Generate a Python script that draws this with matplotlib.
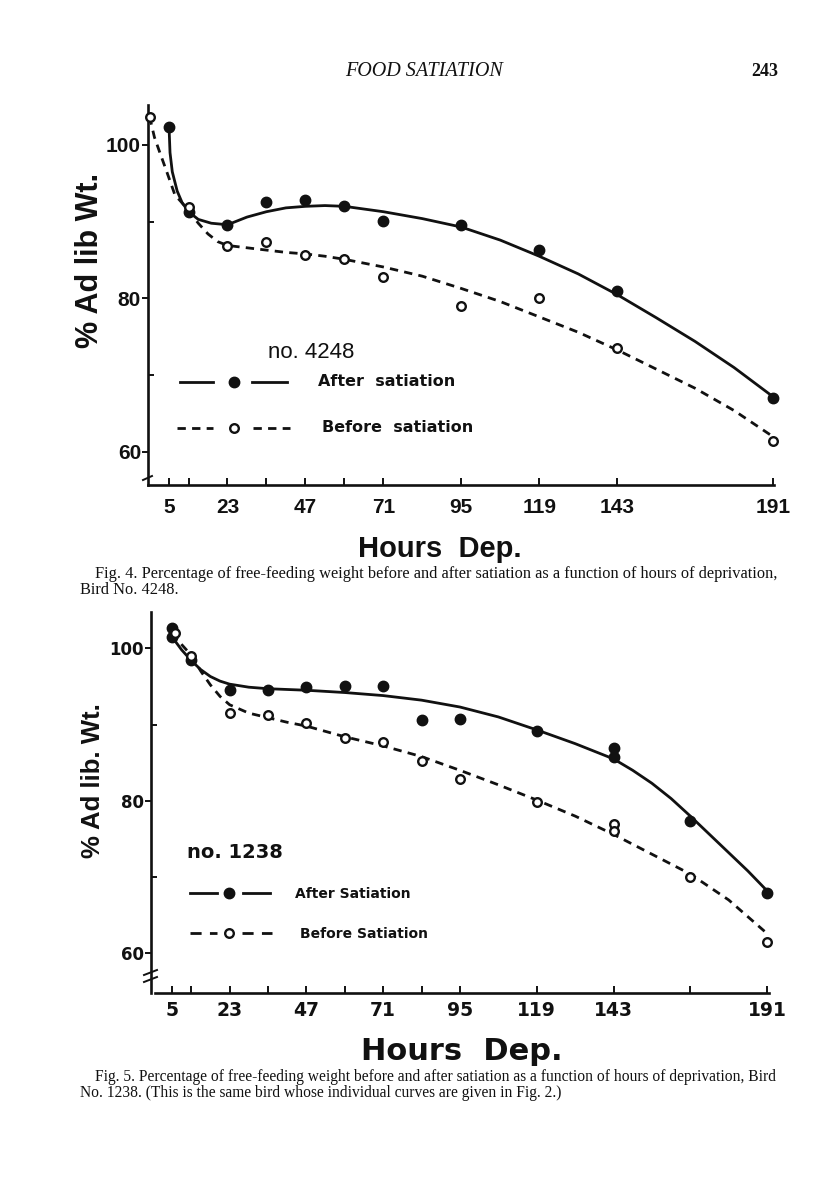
import matplotlib
matplotlib.use("Agg")
import matplotlib.pyplot as plt
from matplotlib.lines import Line2D

plt.rcParams['lines.scale_dashes'] = False

# ---------------- data : Fig. 4 (Bird No. 4248) ----------------
hours_after_4 = [5, 11, 23, 35, 47, 59, 71, 95, 119, 143, 191]
after_4 = [102.3, 91.3, 89.6, 92.5, 92.8, 92.0, 90.1, 89.6, 86.3, 81.0, 67.0]
hours_before_4 = [-1, 11, 23, 35, 47, 59, 71, 95, 119, 143, 191]
before_4 = [103.7, 91.9, 86.8, 87.4, 85.7, 85.1, 82.8, 79.0, 80.0, 73.5, 61.4]
# hand-drawn fitted curves
fit_after_4_h = [5, 5.3, 6, 7.5, 9, 11, 14, 18, 23, 29, 35, 41, 47, 53, 59, 71, 83, 95,
                 107, 119, 131, 143, 155, 167, 179, 191]
fit_after_4 = [102.3, 99.0, 96.5, 94.0, 92.5, 91.3, 90.3, 89.8, 89.6, 90.6, 91.3, 91.8,
               92.0, 92.1, 92.0, 91.3, 90.4, 89.3, 87.6, 85.5, 83.2, 80.5, 77.5, 74.4,
               71.0, 67.2]
fit_before_4_h = [-1, 0.5, 2, 4.3, 6.8, 11, 14, 17, 20, 23, 29, 35, 41, 47, 53, 59, 65, 71,
                  83, 95, 107, 119, 131, 143, 155, 167, 179, 191]
fit_before_4 = [103.7, 101.0, 99.2, 96.5, 93.5, 91.5, 89.8, 88.4, 87.4, 86.9, 86.6, 86.3,
                86.0, 85.8, 85.5, 85.1, 84.6, 84.1, 82.9, 81.3, 79.6, 77.6, 75.6, 73.3,
                70.8, 68.3, 65.4, 62.0]

# ---------------- data : Fig. 5 (Bird No. 1238) ----------------
hours_after_5 = [5, 5, 11, 23, 35, 47, 59, 71, 83, 95, 119, 143, 143, 167, 191]
after_5 = [102.7, 101.5, 98.5, 94.5, 94.5, 94.9, 95.0, 95.1, 90.6, 90.7, 89.1, 86.9,
           85.8, 77.3, 67.9]
hours_before_5 = [6, 11, 23, 35, 47, 59, 71, 83, 95, 119, 143, 143, 167, 191]
before_5 = [102.0, 99.0, 91.5, 91.2, 90.2, 88.2, 87.7, 85.2, 82.8, 79.8, 77.0, 76.0,
            70.0, 61.5]
fit_after_5_h = [5, 8, 11, 14, 17, 20, 23, 29, 35, 41, 47, 59, 71, 83, 95, 107, 119, 131,
                 143, 149, 155, 161, 167, 173, 179, 185, 191]
fit_after_5 = [101.5, 99.8, 98.4, 97.2, 96.3, 95.7, 95.3, 94.9, 94.7, 94.6, 94.5, 94.2,
               93.8, 93.2, 92.3, 91.0, 89.3, 87.5, 85.5, 84.0, 82.3, 80.3, 78.0, 75.6,
               73.2, 70.8, 68.2]
fit_before_5_h = [5, 8, 11, 14, 17, 20, 23, 29, 35, 41, 47, 59, 71, 83, 95, 107, 119, 131,
                  143, 155, 167, 179, 191]
fit_before_5 = [102.0, 100.5, 99.1, 97.0, 95.2, 93.7, 92.6, 91.5, 90.9, 90.3, 89.8, 88.4,
                87.2, 85.8, 84.0, 82.1, 80.1, 78.0, 75.6, 73.0, 70.4, 67.0, 62.6]

ticks_4 = [5, 11, 23, 35, 47, 59, 71, 95, 119, 143, 191]
ticks_5 = [5, 11, 23, 35, 47, 59, 71, 83, 95, 119, 143, 167, 191]
labeled_ticks = [5, 23, 47, 71, 95, 119, 143, 191]
y_major = [60, 80, 100]
y_minor = [70, 90]

# ---------------- layout ----------------
W, H = 816, 1188
INK = '#111111'
fig = plt.figure(figsize=(W / 100, H / 100), dpi=100)


def fx(x):
    return x / W


def fy(y):
    return 1 - y / H


DASH = (0, (6, 4.5))


def setup_axes(ax, xticks, tick_font, tick_size, ytick_font, ytick_size, xpad):
    for s in ('top', 'right'):
        ax.spines[s].set_visible(False)
    for s in ('left', 'bottom'):
        ax.spines[s].set_linewidth(1.9)
        ax.spines[s].set_color(INK)
    ax.set_xticks(xticks)
    ax.set_xticklabels([str(t) if t in labeled_ticks else '' for t in xticks],
                       fontfamily=tick_font, fontweight='bold', fontsize=tick_size)
    ax.tick_params(axis='x', direction='in', length=5, width=1.4, pad=xpad, colors=INK)
    ax.set_yticks(y_major)
    ax.set_yticklabels([str(v) for v in y_major], fontfamily=ytick_font,
                       fontweight='bold', fontsize=ytick_size)
    ax.set_yticks(y_minor, minor=True)
    ax.tick_params(axis='y', which='major', direction='out', length=4, width=1.4,
                   pad=1, colors=INK)
    ax.tick_params(axis='y', which='minor', direction='in', length=4, width=1.4,
                   colors=INK)
    ax.patch.set_visible(False)


def draw_series(ax, fh_a, fa, fh_b, fb, ha, a, hb, b):
    ax.plot(fh_a, fa, color=INK, lw=2.0, solid_capstyle='round', clip_on=False, zorder=3)
    ax.plot(fh_b, fb, color=INK, lw=2.0, linestyle=DASH, clip_on=False, zorder=3)
    ax.plot(ha, a, 'o', color=INK, ms=7.5, clip_on=False, zorder=5)
    ax.plot(hb, b, 'o', mfc='white', mec=INK, ms=6.2, mew=1.7, clip_on=False, zorder=5)


# ---- Fig. 4 axes ----
ax4 = fig.add_axes([fx(148), fy(485), (774 - 148) / W, (485 - 105) / H])
ax4.set_xlim(-1.48, 191.3)
ax4.set_ylim(55.7, 105.2)
setup_axes(ax4, ticks_4, 'Liberation Sans', 15, 'Liberation Sans', 15, 9)
draw_series(ax4, fit_after_4_h, fit_after_4, fit_before_4_h, fit_before_4,
            hours_after_4, after_4, hours_before_4, before_4)

# ---- Fig. 5 axes ----
ax5 = fig.add_axes([fx(150.7), fy(993), (769 - 150.7) / W, (993 - 612) / H])
ax5.set_xlim(-1.66, 191.6)
ax5.set_ylim(54.8, 104.76)
setup_axes(ax5, ticks_5, 'DejaVu Sans', 13.5, 'DejaVu Sans', 12, 6)
ax5.spines['bottom'].set_bounds(-0.3, 191.6)
draw_series(ax5, fit_after_5_h, fit_after_5, fit_before_5_h, fit_before_5,
            hours_after_5, after_5, hours_before_5, before_5)


def fig_line(xs, ys, **kw):
    fig.add_artist(Line2D([fx(x) for x in xs], [fy(y) for y in ys], **kw))


# axis break marks
fig_line([143, 152], [480, 476], color=INK, lw=1.4)
fig_line([144, 157], [975, 970], color=INK, lw=1.4)
fig_line([144, 157], [982, 977], color=INK, lw=1.4)

# ---- axis titles ----
fig.text(fx(90), fy(260), '% Ad lib Wt.', rotation=90, ha='center', va='center',
         fontfamily='Liberation Sans', fontweight='bold', fontsize=22, color=INK)
fig.text(fx(93), fy(781), '% Ad lib. Wt.', rotation=90, ha='center', va='center',
         fontfamily='Liberation Sans', fontweight='bold', fontsize=18.5, color=INK)
fig.text(fx(440), fy(549), 'Hours  Dep.', ha='center', va='center',
         fontfamily='Liberation Sans', fontweight='bold', fontsize=21, color=INK)
fig.text(fx(462), fy(1052), 'Hours  Dep.', ha='center', va='center',
         fontfamily='DejaVu Sans', fontweight='bold', fontsize=22, color=INK)

# ---- in-plot legends ----
# Fig. 4
fig.text(fx(268), fy(353), 'no. 4248', ha='left', va='center',
         fontfamily='Liberation Sans', fontsize=16, color=INK)
fig_line([180, 213], [382, 382], color=INK, lw=2.0)
fig_line([252, 287], [382, 382], color=INK, lw=2.0)
fig_line([234], [382], marker='o', color=INK, ms=7.5, lw=0)
fig.text(fx(318), fy(381), 'After  satiation', ha='left', va='center',
         fontfamily='DejaVu Sans', fontweight='bold', fontsize=11.5, color=INK)
fig_line([177, 213], [428, 428], color=INK, lw=2.0, linestyle=DASH)
fig_line([253, 290], [428, 428], color=INK, lw=2.0, linestyle=DASH)
fig_line([234], [428], marker='o', mfc='white', mec=INK, ms=6.2, mew=1.7, lw=0)
fig.text(fx(322), fy(427), 'Before  satiation', ha='left', va='center',
         fontfamily='DejaVu Sans', fontweight='bold', fontsize=11.5, color=INK)

# Fig. 5
fig.text(fx(187), fy(853), 'no. 1238', ha='left', va='center',
         fontfamily='DejaVu Sans', fontweight='bold', fontsize=14, color=INK)
fig_line([190, 217], [893, 893], color=INK, lw=2.0)
fig_line([243, 270], [893, 893], color=INK, lw=2.0)
fig_line([229], [893], marker='o', color=INK, ms=7.5, lw=0)
fig.text(fx(295), fy(894), 'After Satiation', ha='left', va='center',
         fontfamily='DejaVu Sans', fontweight='bold', fontsize=10, color=INK)
fig_line([190, 217], [933, 933], color=INK, lw=2.0, linestyle=(0, (8, 6)))
fig_line([242, 272], [933, 933], color=INK, lw=2.0, linestyle=(0, (8, 6)))
fig_line([229], [933], marker='o', mfc='white', mec=INK, ms=6.2, mew=1.7, lw=0)
fig.text(fx(300), fy(934), 'Before Satiation', ha='left', va='center',
         fontfamily='DejaVu Sans', fontweight='bold', fontsize=10, color=INK)

# ---- page header ----
fig.text(fx(424), fy(72), 'FOOD SATIATION', ha='center', va='center',
         fontfamily='Liberation Serif', fontstyle='italic', fontsize=14.5, color=INK)
fig.text(fx(765), fy(72), '243', ha='center', va='center',
         fontfamily='Liberation Serif', fontweight='bold', fontsize=13, color=INK)

# ---- captions (font size fitted to the justified line width) ----
renderer = fig.canvas.get_renderer()


def caption(line1, line2, y1, y2, x_start=95, x_end=776):
    t = fig.text(fx(x_start), fy(y1), line1, ha='left', va='center',
                 fontfamily='Liberation Serif', fontsize=10, color=INK)
    w = t.get_window_extent(renderer).width
    size = 10 * (x_end - x_start) / w
    t.set_fontsize(size)
    fig.text(fx(80), fy(y2), line2, ha='left', va='center',
             fontfamily='Liberation Serif', fontsize=size, color=INK)


caption('Fig. 4. Percentage of free-feeding weight before and after satiation as a '
        'function of hours of deprivation,', 'Bird No. 4248.', 574, 590)
caption('Fig. 5. Percentage of free-feeding weight before and after satiation as a '
        'function of hours of deprivation, Bird',
        'No. 1238. (This is the same bird whose individual curves are given in Fig. 2.)',
        1077, 1093)

fig.savefig('out.png', dpi=100, facecolor='white')
